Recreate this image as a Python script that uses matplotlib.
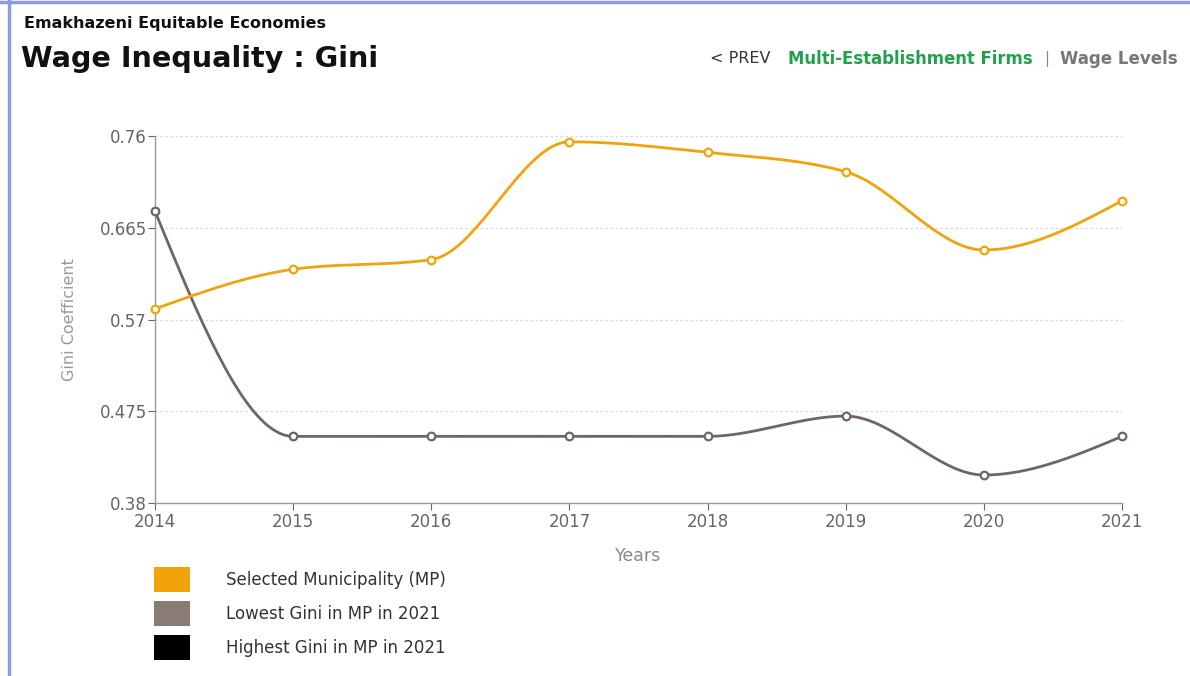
import numpy as np
import matplotlib.pyplot as plt
from matplotlib.patches import Rectangle
from matplotlib.lines import Line2D

years = [2014, 2015, 2016, 2017, 2018, 2019, 2020, 2021]
selected_mp = [0.581, 0.622, 0.632, 0.754, 0.743, 0.723, 0.642, 0.693]
lowest_gini = [0.682, 0.449, 0.449, 0.449, 0.449, 0.470, 0.409, 0.449]
y_ticks = [0.38, 0.475, 0.57, 0.665, 0.76]
y_tick_labels = ["0.38", "0.475", "0.57", "0.665", "0.76"]

legend_labels = ["Selected Municipality (MP)", "Lowest Gini in MP in 2021",
                 "Highest Gini in MP in 2021"]
legend_colors = ["#f0a30a", "#8a7b75", "#000000"]

ORANGE = "#f0a30a"
GREY = "#6f6663"


def monotone_x(x, y, n=40):
    # monotone cubic interpolation (same idea as d3.curveMonotoneX)
    x = np.asarray(x, float)
    y = np.asarray(y, float)
    h = np.diff(x)
    s = np.diff(y) / h
    m = np.zeros_like(y)
    for i in range(1, len(y) - 1):
        if s[i - 1] * s[i] <= 0:
            m[i] = 0
        else:
            p = (s[i - 1] * h[i] + s[i] * h[i - 1]) / (h[i - 1] + h[i])
            m[i] = (np.sign(s[i - 1]) + np.sign(s[i])) * min(abs(s[i - 1]), abs(s[i]), 0.5 * abs(p))
    m[0] = (3 * s[0] - m[1]) / 2 if len(y) > 2 else s[0]
    m[-1] = (3 * s[-1] - m[-2]) / 2
    xs, ys = [], []
    for i in range(len(h)):
        t = np.linspace(0, 1, n)
        h00 = 2 * t**3 - 3 * t**2 + 1
        h10 = t**3 - 2 * t**2 + t
        h01 = -2 * t**3 + 3 * t**2
        h11 = t**3 - t**2
        xs.append(x[i] + t * h[i])
        ys.append(h00 * y[i] + h10 * h[i] * m[i] + h01 * y[i + 1] + h11 * h[i] * m[i + 1])
    return np.concatenate(xs), np.concatenate(ys)


fig = plt.figure(figsize=(11.9, 6.76), dpi=100)
fig.patch.set_facecolor("white")

# page frame
fig.add_artist(Line2D([0, 1], [0.997, 0.997], color="#8c9be0", lw=2.5, transform=fig.transFigure))
fig.add_artist(Line2D([0.0075, 0.0075], [0, 1], color="#8c9be0", lw=2.5, transform=fig.transFigure))

fig.text(0.02, 0.965, "Emakhazeni Equitable Economies", fontsize=11.5, fontweight="bold",
         color="#111111", va="center")
fig.text(0.018, 0.913, "Wage Inequality : Gini", fontsize=20.6, fontweight="bold",
         color="#111111", va="center")
fig.text(0.597, 0.913, "< PREV", fontsize=11.5, color="#333333", va="center")
fig.text(0.662, 0.913, "Multi-Establishment Firms", fontsize=11.9, fontweight="bold",
         color="#22a04b", va="center")
fig.text(0.877, 0.913, "|", fontsize=11, color="#888888", va="center")
fig.text(0.891, 0.913, "Wage Levels", fontsize=12, fontweight="bold",
         color="#777777", va="center")

ax = fig.add_axes([0.1303, 0.2559, 0.8126, 0.5429])
ax.set_xlim(years[0], years[-1])
ax.set_ylim(y_ticks[0], y_ticks[-1])

for v in y_ticks[1:]:
    ax.axhline(v, color="#d9d9d9", lw=0.9, ls=(0, (2, 2)), zorder=0)

for vals, col in [(lowest_gini, GREY), (selected_mp, ORANGE)]:
    sx, sy = monotone_x(years, vals)
    ax.plot(sx, sy, color=col, lw=2, clip_on=False, zorder=3)
    ax.plot(years, vals, ls="none", marker="o", ms=5.5, mfc="white", mec=col,
            mew=1.6, clip_on=False, zorder=4)

ax.set_yticks(y_ticks)
ax.set_yticklabels(y_tick_labels)
ax.set_xticks(years)
ax.tick_params(colors="#666666", labelsize=12, length=5, width=0.8)
ax.tick_params(axis="x", pad=2)
ax.tick_params(axis="y", pad=1)
for side in ["top", "right"]:
    ax.spines[side].set_visible(False)
for side in ["left", "bottom"]:
    ax.spines[side].set_color("#9a9a9a")
    ax.spines[side].set_linewidth(1)

ax.set_xlabel("Years", fontsize=12.5, color="#888888", labelpad=12)
ax.set_ylabel("Gini Coefficient", fontsize=11.5, color="#999999", labelpad=16)

# legend swatches
for i, (lab, col) in enumerate(zip(legend_labels, legend_colors)):
    yc = 0.142 - i * 0.0505
    fig.add_artist(Rectangle((0.129, yc - 0.018), 0.031, 0.037, facecolor=col,
                             edgecolor="none", transform=fig.transFigure))
    fig.text(0.19, yc, lab, fontsize=12, color="#333333", va="center")

fig.savefig("out.png", dpi=100, facecolor="white")
